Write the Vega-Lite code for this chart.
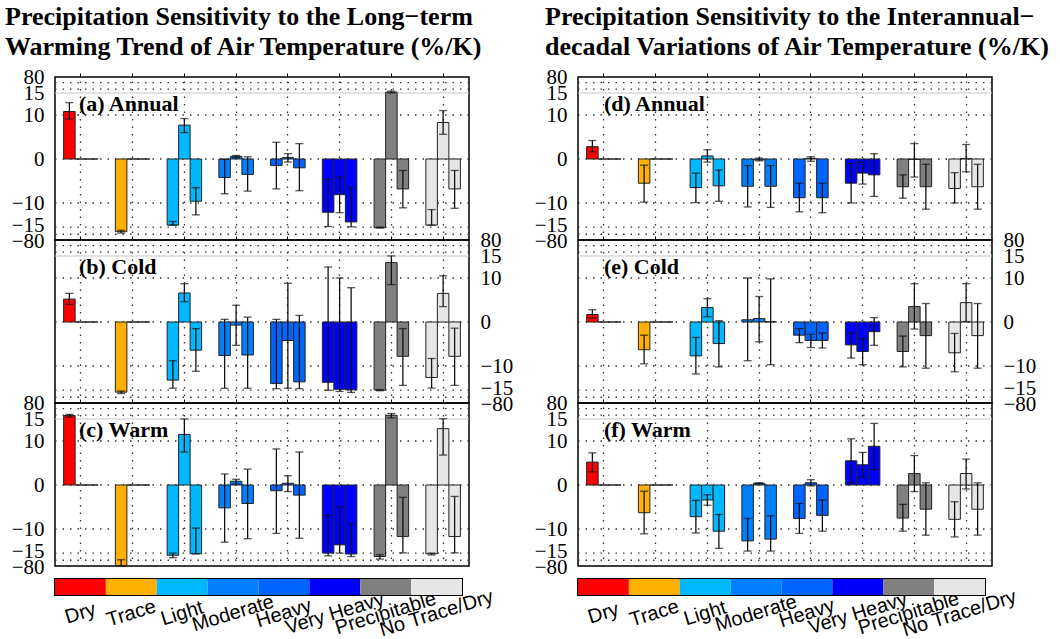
{
"$schema": "https://vega.github.io/schema/vega-lite/v6.json",
"background": "white",
"padding": {"left": 5, "top": 4, "right": 0, "bottom": 0},
"config": {"view": {"stroke": "black", "strokeWidth": 1.5}, "font": "Liberation Serif", "axisY": {"labelOverlap": false}},
"datasets": {
"grid": [{"g": 57, "k": "dot"}, {"g": 31, "k": "dot"}, {"g": 10, "k": "dot"}, {"g": 0, "k": "dot"}, {"g": -10, "k": "dot"}, {"g": -24, "k": "dot"}, {"g": -55, "k": "dot"}, {"g": 15, "k": "solid"}],
"cats": [{"g": "Dry"}, {"g": "Trace"}, {"g": "Light"}, {"g": "Moderate"}, {"g": "Heavy"}, {"g": "Very Heavy"}, {"g": "Precipitable"}, {"g": "No Trace/Dry"}],
"bars": [
{"p":"a","g":"Dry","s":1,"v":10.8,"lo":9.1,"hi":12.8},{"p":"a","g":"Dry","s":2,"v":0},{"p":"a","g":"Dry","s":3,"v":0},
{"p":"a","g":"Trace","s":1,"v":-44,"lo":-50,"hi":-38},{"p":"a","g":"Trace","s":2,"v":0},{"p":"a","g":"Trace","s":3,"v":0},
{"p":"a","g":"Light","s":1,"v":-15.3,"lo":-15.6,"hi":-14.2},{"p":"a","g":"Light","s":2,"v":7.7,"lo":6,"hi":9.2},{"p":"a","g":"Light","s":3,"v":-9.6,"lo":-12.7,"hi":-6.5},
{"p":"a","g":"Moderate","s":1,"v":-4.2,"lo":-7.9,"hi":-0.1},{"p":"a","g":"Moderate","s":2,"v":0.6,"lo":0.3,"hi":0.8},{"p":"a","g":"Moderate","s":3,"v":-3.5,"lo":-7.3,"hi":0.5},
{"p":"a","g":"Heavy","s":1,"v":-1.5,"lo":-6.8,"hi":3.8},{"p":"a","g":"Heavy","s":2,"v":0.3,"lo":-0.7,"hi":1.2},{"p":"a","g":"Heavy","s":3,"v":-2,"lo":-7.2,"hi":3.5},
{"p":"a","g":"Very Heavy","s":1,"v":-12.1,"lo":-21.6,"hi":-4.6},{"p":"a","g":"Very Heavy","s":2,"v":-8.1,"lo":-12.2,"hi":-4.1},{"p":"a","g":"Very Heavy","s":3,"v":-14.3,"lo":-23,"hi":-6.5},
{"p":"a","g":"Precipitable","s":1,"v":-27,"lo":-28,"hi":-24},{"p":"a","g":"Precipitable","s":2,"v":18.8,"lo":15,"hi":22.6},{"p":"a","g":"Precipitable","s":3,"v":-6.8,"lo":-11.1,"hi":-2.6},
{"p":"a","g":"No Trace/Dry","s":1,"v":-15.3,"lo":-15.8,"hi":-11.5},{"p":"a","g":"No Trace/Dry","s":2,"v":8.3,"lo":5.6,"hi":11},{"p":"a","g":"No Trace/Dry","s":3,"v":-6.8,"lo":-11.2,"hi":-2.6},

{"p":"b","g":"Dry","s":1,"v":5.2,"lo":4,"hi":6.5},{"p":"b","g":"Dry","s":2,"v":0},{"p":"b","g":"Dry","s":3,"v":0},
{"p":"b","g":"Trace","s":1,"v":-33,"lo":-39,"hi":-28},{"p":"b","g":"Trace","s":2,"v":0},{"p":"b","g":"Trace","s":3,"v":0},
{"p":"b","g":"Light","s":1,"v":-13.2,"lo":-16,"hi":-8.8},{"p":"b","g":"Light","s":2,"v":6.6,"lo":4.6,"hi":8.7},{"p":"b","g":"Light","s":3,"v":-6.4,"lo":-11.2,"hi":-1.5},
{"p":"b","g":"Moderate","s":1,"v":-7.6,"lo":-16,"hi":0.6},{"p":"b","g":"Moderate","s":2,"v":-0.7,"lo":-5.3,"hi":3.8},{"p":"b","g":"Moderate","s":3,"v":-7.5,"lo":-16,"hi":1.1},
{"p":"b","g":"Heavy","s":1,"v":-14,"lo":-18,"hi":0.6},{"p":"b","g":"Heavy","s":2,"v":-4.2,"lo":-16,"hi":8.8},{"p":"b","g":"Heavy","s":3,"v":-13.6,"lo":-18,"hi":1.5},
{"p":"b","g":"Very Heavy","s":1,"v":-13.7,"lo":-25,"hi":12.5},{"p":"b","g":"Very Heavy","s":2,"v":-20.5,"lo":-30,"hi":10},{"p":"b","g":"Very Heavy","s":3,"v":-23,"lo":-34,"hi":7.8},
{"p":"b","g":"Precipitable","s":1,"v":-24,"lo":-27,"hi":-22},{"p":"b","g":"Precipitable","s":2,"v":13.5,"lo":8.5,"hi":15.3},{"p":"b","g":"Precipitable","s":3,"v":-7.8,"lo":-14.4,"hi":-1.5},
{"p":"b","g":"No Trace/Dry","s":1,"v":-12.6,"lo":-15.5,"hi":-8.3},{"p":"b","g":"No Trace/Dry","s":2,"v":6.5,"lo":3.5,"hi":10.5},{"p":"b","g":"No Trace/Dry","s":3,"v":-7.8,"lo":-14.4,"hi":-1.4},

{"p":"c","g":"Dry","s":1,"v":28.8,"lo":22.5,"hi":33.7},{"p":"c","g":"Dry","s":2,"v":0},{"p":"c","g":"Dry","s":3,"v":0},
{"p":"c","g":"Trace","s":1,"v":-78,"lo":-80,"hi":-53},{"p":"c","g":"Trace","s":2,"v":0},{"p":"c","g":"Trace","s":3,"v":0},
{"p":"c","g":"Light","s":1,"v":-33.6,"lo":-44,"hi":-24},{"p":"c","g":"Light","s":2,"v":11.5,"lo":7.5,"hi":15},{"p":"c","g":"Light","s":3,"v":-27,"lo":-27.5,"hi":-9.8},
{"p":"c","g":"Moderate","s":1,"v":-5.2,"lo":-13,"hi":2.5},{"p":"c","g":"Moderate","s":2,"v":0.85,"lo":0.2,"hi":1.3},{"p":"c","g":"Moderate","s":3,"v":-4.2,"lo":-12.2,"hi":3.6},
{"p":"c","g":"Heavy","s":1,"v":-1.3,"lo":-11,"hi":8.2},{"p":"c","g":"Heavy","s":2,"v":0.4,"lo":-1.5,"hi":2.1},{"p":"c","g":"Heavy","s":3,"v":-2.3,"lo":-12.1,"hi":7.5},
{"p":"c","g":"Very Heavy","s":1,"v":-24,"lo":-36,"hi":-6.9},{"p":"c","g":"Very Heavy","s":2,"v":-13.6,"lo":-24,"hi":-5},{"p":"c","g":"Very Heavy","s":3,"v":-28,"lo":-39,"hi":-8.8},
{"p":"c","g":"Precipitable","s":1,"v":-39,"lo":-50,"hi":-31},{"p":"c","g":"Precipitable","s":2,"v":30,"lo":19.8,"hi":37.5},{"p":"c","g":"Precipitable","s":3,"v":-11.7,"lo":-23,"hi":-2.8},
{"p":"c","g":"No Trace/Dry","s":1,"v":-27,"lo":-32,"hi":-24},{"p":"c","g":"No Trace/Dry","s":2,"v":12.8,"lo":6.8,"hi":16},{"p":"c","g":"No Trace/Dry","s":3,"v":-11.7,"lo":-23,"hi":-2.6},

{"p":"d","g":"Dry","s":1,"v":2.8,"lo":1.6,"hi":4.2},{"p":"d","g":"Dry","s":2,"v":0},{"p":"d","g":"Dry","s":3,"v":0},
{"p":"d","g":"Trace","s":1,"v":-5.5,"lo":-9.8,"hi":-1.4},{"p":"d","g":"Trace","s":2,"v":0},{"p":"d","g":"Trace","s":3,"v":0},
{"p":"d","g":"Light","s":1,"v":-6.5,"lo":-9.9,"hi":-3.2},{"p":"d","g":"Light","s":2,"v":0.7,"lo":-0.7,"hi":2.1},{"p":"d","g":"Light","s":3,"v":-6.1,"lo":-9.6,"hi":-2.5},
{"p":"d","g":"Moderate","s":1,"v":-6.2,"lo":-10.9,"hi":-1.5},{"p":"d","g":"Moderate","s":2,"v":-0.2,"lo":-0.4,"hi":0.2},{"p":"d","g":"Moderate","s":3,"v":-6.2,"lo":-11,"hi":-1.5},
{"p":"d","g":"Heavy","s":1,"v":-8.8,"lo":-12,"hi":-5.5},{"p":"d","g":"Heavy","s":2,"v":0.15,"lo":-0.5,"hi":0.5},{"p":"d","g":"Heavy","s":3,"v":-8.8,"lo":-12.2,"hi":-5.5},
{"p":"d","g":"Very Heavy","s":1,"v":-5.5,"lo":-10,"hi":-1},{"p":"d","g":"Very Heavy","s":2,"v":-3.2,"lo":-5.7,"hi":-0.7},{"p":"d","g":"Very Heavy","s":3,"v":-3.6,"lo":-8.5,"hi":1.2},
{"p":"d","g":"Precipitable","s":1,"v":-6.3,"lo":-8.9,"hi":-3.6},{"p":"d","g":"Precipitable","s":2,"v":-0.1,"lo":-4.1,"hi":3.5},{"p":"d","g":"Precipitable","s":3,"v":-6.3,"lo":-11.4,"hi":-1.2},
{"p":"d","g":"No Trace/Dry","s":1,"v":-6.7,"lo":-10,"hi":-3.1},{"p":"d","g":"No Trace/Dry","s":2,"v":0.1,"lo":-2.9,"hi":3.3},{"p":"d","g":"No Trace/Dry","s":3,"v":-6.3,"lo":-11.4,"hi":-1.2},

{"p":"e","g":"Dry","s":1,"v":1.7,"lo":0.9,"hi":2.8},{"p":"e","g":"Dry","s":2,"v":0},{"p":"e","g":"Dry","s":3,"v":0},
{"p":"e","g":"Trace","s":1,"v":-6.3,"lo":-9.5,"hi":-3},{"p":"e","g":"Trace","s":2,"v":0},{"p":"e","g":"Trace","s":3,"v":0},
{"p":"e","g":"Light","s":1,"v":-7.7,"lo":-11.8,"hi":-3.5},{"p":"e","g":"Light","s":2,"v":3.3,"lo":1.2,"hi":5.3},{"p":"e","g":"Light","s":3,"v":-4.9,"lo":-10.2,"hi":0.3},
{"p":"e","g":"Moderate","s":1,"v":0.5,"lo":-8.8,"hi":10},{"p":"e","g":"Moderate","s":2,"v":0.8,"lo":-4.5,"hi":5.8},{"p":"e","g":"Moderate","s":3,"v":0.05,"lo":-9.7,"hi":9.8},
{"p":"e","g":"Heavy","s":1,"v":-3,"lo":-4.7,"hi":-1.5},{"p":"e","g":"Heavy","s":2,"v":-4.2,"lo":-5.8,"hi":-2.8},{"p":"e","g":"Heavy","s":3,"v":-4.2,"lo":-5.9,"hi":-2.5},
{"p":"e","g":"Very Heavy","s":1,"v":-5.2,"lo":-8.2,"hi":-2.4},{"p":"e","g":"Very Heavy","s":2,"v":-6.7,"lo":-9.7,"hi":-3.8},{"p":"e","g":"Very Heavy","s":3,"v":-2.2,"lo":-5.3,"hi":1},
{"p":"e","g":"Precipitable","s":1,"v":-6.7,"lo":-10.2,"hi":-3.2},{"p":"e","g":"Precipitable","s":2,"v":3.5,"lo":-1.6,"hi":8.7},{"p":"e","g":"Precipitable","s":3,"v":-3.1,"lo":-10.5,"hi":4.2},
{"p":"e","g":"No Trace/Dry","s":1,"v":-7,"lo":-11.3,"hi":-2.6},{"p":"e","g":"No Trace/Dry","s":2,"v":4.4,"lo":0.1,"hi":8.7},{"p":"e","g":"No Trace/Dry","s":3,"v":-3.1,"lo":-10.5,"hi":4.2},

{"p":"f","g":"Dry","s":1,"v":5.2,"lo":3,"hi":7.3},{"p":"f","g":"Dry","s":2,"v":0},{"p":"f","g":"Dry","s":3,"v":0},
{"p":"f","g":"Trace","s":1,"v":-6.3,"lo":-11.1,"hi":-1.4},{"p":"f","g":"Trace","s":2,"v":0},{"p":"f","g":"Trace","s":3,"v":0},
{"p":"f","g":"Light","s":1,"v":-7.2,"lo":-10.9,"hi":-3.5},{"p":"f","g":"Light","s":2,"v":-3.4,"lo":-4.6,"hi":-2.2},{"p":"f","g":"Light","s":3,"v":-10.5,"lo":-14.4,"hi":-6.7},
{"p":"f","g":"Moderate","s":1,"v":-12.7,"lo":-15.4,"hi":-7.6},{"p":"f","g":"Moderate","s":2,"v":0.4,"lo":0.2,"hi":0.5},{"p":"f","g":"Moderate","s":3,"v":-12.3,"lo":-15.3,"hi":-7},
{"p":"f","g":"Heavy","s":1,"v":-7.6,"lo":-11,"hi":-4.2},{"p":"f","g":"Heavy","s":2,"v":0.5,"lo":-0.2,"hi":1.2},{"p":"f","g":"Heavy","s":3,"v":-6.9,"lo":-10.5,"hi":-3.4},
{"p":"f","g":"Very Heavy","s":1,"v":5.5,"lo":0.5,"hi":10.5},{"p":"f","g":"Very Heavy","s":2,"v":4.6,"lo":1.8,"hi":7.4},{"p":"f","g":"Very Heavy","s":3,"v":8.8,"lo":3.5,"hi":14},
{"p":"f","g":"Precipitable","s":1,"v":-7.5,"lo":-10.5,"hi":-4.4},{"p":"f","g":"Precipitable","s":2,"v":2.6,"lo":-1.5,"hi":6.7},{"p":"f","g":"Precipitable","s":3,"v":-5.5,"lo":-11.4,"hi":0.5},
{"p":"f","g":"No Trace/Dry","s":1,"v":-7.8,"lo":-11.8,"hi":-3.8},{"p":"f","g":"No Trace/Dry","s":2,"v":2.6,"lo":-0.9,"hi":5.9},{"p":"f","g":"No Trace/Dry","s":3,"v":-5.5,"lo":-11.4,"hi":0.5}
]
},
"spacing": 19,
"hconcat": [
{
"title": {"text": ["Precipitation Sensitivity to the Long−term", "Warming Trend of Air Temperature (%/K)"], "anchor": "start", "frame": "group", "font": "Liberation Serif", "fontSize": 26, "fontWeight": "bold", "lineHeight": 30, "dx": -50, "offset": 5, "color": "black"},
"spacing": 0,
"vconcat": [
{"bounds": "flush", "spacing": 0, "vconcat": [
{"width": 414, "height": 163, "layer": [
{"data": {"name": "grid"}, "transform": [{"filter": "datum.k == 'dot'"}], "mark": {"type": "rule", "strokeDash": [1.5, 6], "color": "#333", "strokeWidth": 1.3}, "encoding": {"y": {"field": "g", "type": "quantitative", "scale": {"domain": [-80, -15, 15, 80], "range": [163, 148, 16, 0], "zero": false, "nice": false, "clamp": true}, "axis": {"orient": "left", "values": [80, 10, 0, -10, -15], "labelExpr": "datum.value == 80 ? ['80', '15'] : datum.value == -15 ? ['−15', '−80'] : datum.label", "labelLineHeight": 16, "title": null, "grid": false, "ticks": false, "domain": false, "labelFont": "Liberation Serif", "labelFontSize": 21, "labelColor": "black", "labelPadding": 11, "labelFlush": false, "labelOverlap": false, "labelBound": false}}}},
{"data": {"name": "grid"}, "transform": [{"filter": "datum.k == 'solid'"}], "mark": {"type": "rule", "color": "#c8c8c8", "strokeWidth": 1.2}, "encoding": {"y": {"field": "g", "type": "quantitative"}}},
{"data": {"name": "bars"}, "transform": [{"filter": "datum.p == 'a'"}], "mark": {"type": "bar", "stroke": "#222", "strokeWidth": 1}, "encoding": {"x": {"field": "g", "type": "nominal", "sort": ["Dry","Trace","Light","Moderate","Heavy","Very Heavy","Precipitable","No Trace/Dry"], "scale": {"domain": ["Dry","Trace","Light","Moderate","Heavy","Very Heavy","Precipitable","No Trace/Dry"], "paddingInner": 0.333, "paddingOuter": 0.1667}, "axis": {"orient": "top", "labels": false, "domain": false, "ticks": true, "tickSize": 4, "tickColor": "black", "grid": true, "gridDash": [1.5, 6], "gridColor": "#333", "gridWidth": 1.3, "title": null, "bandPosition": 0.5}}, "xOffset": {"field": "s", "type": "ordinal", "scale": {"paddingInner": 0, "paddingOuter": 0}}, "y": {"field": "v", "type": "quantitative"}, "y2": {"datum": 0}, "color": {"field": "g", "type": "nominal", "scale": {"domain": ["Dry","Trace","Light","Moderate","Heavy","Very Heavy","Precipitable","No Trace/Dry"], "range": ["#ff0000","#ffb000","#00b8ff","#0080ff","#0064ff","#0000ff","#808080","#e6e6e6"]}, "legend": null}}},
{"data": {"name": "bars"}, "transform": [{"filter": "datum.p == 'a' && isValid(datum.lo)"}], "mark": {"type": "rule", "color": "#111", "strokeWidth": 1.3}, "encoding": {"x": {"field": "g", "type": "nominal"}, "xOffset": {"field": "s", "type": "ordinal"}, "y": {"field": "lo", "type": "quantitative"}, "y2": {"field": "hi"}}},
{"data": {"name": "bars"}, "transform": [{"filter": "datum.p == 'a' && isValid(datum.lo)"}], "mark": {"type": "tick", "color": "#111", "size": 8, "thickness": 1.3, "orient": "horizontal"}, "encoding": {"x": {"field": "g", "type": "nominal"}, "xOffset": {"field": "s", "type": "ordinal"}, "y": {"field": "lo", "type": "quantitative"}}},
{"data": {"name": "bars"}, "transform": [{"filter": "datum.p == 'a' && isValid(datum.lo)"}], "mark": {"type": "tick", "color": "#111", "size": 8, "thickness": 1.3, "orient": "horizontal"}, "encoding": {"x": {"field": "g", "type": "nominal"}, "xOffset": {"field": "s", "type": "ordinal"}, "y": {"field": "hi", "type": "quantitative"}}},
{"data": {"values": [{"t": "(a) Annual"}]}, "mark": {"type": "text", "font": "Liberation Serif", "fontWeight": "bold", "fontSize": 22, "align": "left", "baseline": "alphabetic", "dx": -2, "color": "black"}, "encoding": {"text": {"field": "t"}, "x": {"datum": "Dry", "type": "nominal"}, "y": {"datum": 11, "type": "quantitative"}}}
]},
{"width": 414, "height": 163, "layer": [
{"data": {"name": "grid"}, "transform": [{"filter": "datum.k == 'dot'"}], "mark": {"type": "rule", "strokeDash": [1.5, 6], "color": "#333", "strokeWidth": 1.3}, "encoding": {"y": {"field": "g", "type": "quantitative", "scale": {"domain": [-80, -15, 15, 80], "range": [163, 148, 16, 0], "zero": false, "nice": false, "clamp": true}, "axis": {"orient": "right", "values": [80, 10, 0, -10, -15], "labelExpr": "datum.value == 80 ? ['80', '15'] : datum.value == -15 ? ['−15', '−80'] : datum.label", "labelLineHeight": 16, "title": null, "grid": false, "ticks": false, "domain": false, "labelFont": "Liberation Serif", "labelFontSize": 21, "labelColor": "black", "labelPadding": 11, "labelFlush": false, "labelOverlap": false, "labelBound": false}}}},
{"data": {"name": "grid"}, "transform": [{"filter": "datum.k == 'solid'"}], "mark": {"type": "rule", "color": "#c8c8c8", "strokeWidth": 1.2}, "encoding": {"y": {"field": "g", "type": "quantitative"}}},
{"data": {"name": "bars"}, "transform": [{"filter": "datum.p == 'b'"}], "mark": {"type": "bar", "stroke": "#222", "strokeWidth": 1}, "encoding": {"x": {"field": "g", "type": "nominal", "sort": ["Dry","Trace","Light","Moderate","Heavy","Very Heavy","Precipitable","No Trace/Dry"], "scale": {"domain": ["Dry","Trace","Light","Moderate","Heavy","Very Heavy","Precipitable","No Trace/Dry"], "paddingInner": 0.333, "paddingOuter": 0.1667}, "axis": {"orient": "top", "labels": false, "domain": false, "ticks": true, "tickSize": 4, "tickColor": "black", "grid": true, "gridDash": [1.5, 6], "gridColor": "#333", "gridWidth": 1.3, "title": null, "bandPosition": 0.5}}, "xOffset": {"field": "s", "type": "ordinal", "scale": {"paddingInner": 0, "paddingOuter": 0}}, "y": {"field": "v", "type": "quantitative"}, "y2": {"datum": 0}, "color": {"field": "g", "type": "nominal", "scale": {"domain": ["Dry","Trace","Light","Moderate","Heavy","Very Heavy","Precipitable","No Trace/Dry"], "range": ["#ff0000","#ffb000","#00b8ff","#0080ff","#0064ff","#0000ff","#808080","#e6e6e6"]}, "legend": null}}},
{"data": {"name": "bars"}, "transform": [{"filter": "datum.p == 'b' && isValid(datum.lo)"}], "mark": {"type": "rule", "color": "#111", "strokeWidth": 1.3}, "encoding": {"x": {"field": "g", "type": "nominal"}, "xOffset": {"field": "s", "type": "ordinal"}, "y": {"field": "lo", "type": "quantitative"}, "y2": {"field": "hi"}}},
{"data": {"name": "bars"}, "transform": [{"filter": "datum.p == 'b' && isValid(datum.lo)"}], "mark": {"type": "tick", "color": "#111", "size": 8, "thickness": 1.3, "orient": "horizontal"}, "encoding": {"x": {"field": "g", "type": "nominal"}, "xOffset": {"field": "s", "type": "ordinal"}, "y": {"field": "lo", "type": "quantitative"}}},
{"data": {"name": "bars"}, "transform": [{"filter": "datum.p == 'b' && isValid(datum.lo)"}], "mark": {"type": "tick", "color": "#111", "size": 8, "thickness": 1.3, "orient": "horizontal"}, "encoding": {"x": {"field": "g", "type": "nominal"}, "xOffset": {"field": "s", "type": "ordinal"}, "y": {"field": "hi", "type": "quantitative"}}},
{"data": {"values": [{"t": "(b) Cold"}]}, "mark": {"type": "text", "font": "Liberation Serif", "fontWeight": "bold", "fontSize": 22, "align": "left", "baseline": "alphabetic", "dx": -2, "color": "black"}, "encoding": {"text": {"field": "t"}, "x": {"datum": "Dry", "type": "nominal"}, "y": {"datum": 11, "type": "quantitative"}}}
]},
{"width": 414, "height": 163, "layer": [
{"data": {"name": "grid"}, "transform": [{"filter": "datum.k == 'dot'"}], "mark": {"type": "rule", "strokeDash": [1.5, 6], "color": "#333", "strokeWidth": 1.3}, "encoding": {"y": {"field": "g", "type": "quantitative", "scale": {"domain": [-80, -15, 15, 80], "range": [163, 148, 16, 0], "zero": false, "nice": false, "clamp": true}, "axis": {"orient": "left", "values": [80, 10, 0, -10, -15], "labelExpr": "datum.value == 80 ? ['80', '15'] : datum.value == -15 ? ['−15', '−80'] : datum.label", "labelLineHeight": 16, "title": null, "grid": false, "ticks": false, "domain": false, "labelFont": "Liberation Serif", "labelFontSize": 21, "labelColor": "black", "labelPadding": 11, "labelFlush": false, "labelOverlap": false, "labelBound": false}}}},
{"data": {"name": "grid"}, "transform": [{"filter": "datum.k == 'solid'"}], "mark": {"type": "rule", "color": "#c8c8c8", "strokeWidth": 1.2}, "encoding": {"y": {"field": "g", "type": "quantitative"}}},
{"data": {"name": "bars"}, "transform": [{"filter": "datum.p == 'c'"}], "mark": {"type": "bar", "stroke": "#222", "strokeWidth": 1}, "encoding": {"x": {"field": "g", "type": "nominal", "sort": ["Dry","Trace","Light","Moderate","Heavy","Very Heavy","Precipitable","No Trace/Dry"], "scale": {"domain": ["Dry","Trace","Light","Moderate","Heavy","Very Heavy","Precipitable","No Trace/Dry"], "paddingInner": 0.333, "paddingOuter": 0.1667}, "axis": {"orient": "top", "labels": false, "domain": false, "ticks": true, "tickSize": 4, "tickColor": "black", "grid": true, "gridDash": [1.5, 6], "gridColor": "#333", "gridWidth": 1.3, "title": null, "bandPosition": 0.5}}, "xOffset": {"field": "s", "type": "ordinal", "scale": {"paddingInner": 0, "paddingOuter": 0}}, "y": {"field": "v", "type": "quantitative"}, "y2": {"datum": 0}, "color": {"field": "g", "type": "nominal", "scale": {"domain": ["Dry","Trace","Light","Moderate","Heavy","Very Heavy","Precipitable","No Trace/Dry"], "range": ["#ff0000","#ffb000","#00b8ff","#0080ff","#0064ff","#0000ff","#808080","#e6e6e6"]}, "legend": null}}},
{"data": {"name": "bars"}, "transform": [{"filter": "datum.p == 'c' && isValid(datum.lo)"}], "mark": {"type": "rule", "color": "#111", "strokeWidth": 1.3}, "encoding": {"x": {"field": "g", "type": "nominal"}, "xOffset": {"field": "s", "type": "ordinal"}, "y": {"field": "lo", "type": "quantitative"}, "y2": {"field": "hi"}}},
{"data": {"name": "bars"}, "transform": [{"filter": "datum.p == 'c' && isValid(datum.lo)"}], "mark": {"type": "tick", "color": "#111", "size": 8, "thickness": 1.3, "orient": "horizontal"}, "encoding": {"x": {"field": "g", "type": "nominal"}, "xOffset": {"field": "s", "type": "ordinal"}, "y": {"field": "lo", "type": "quantitative"}}},
{"data": {"name": "bars"}, "transform": [{"filter": "datum.p == 'c' && isValid(datum.lo)"}], "mark": {"type": "tick", "color": "#111", "size": 8, "thickness": 1.3, "orient": "horizontal"}, "encoding": {"x": {"field": "g", "type": "nominal"}, "xOffset": {"field": "s", "type": "ordinal"}, "y": {"field": "hi", "type": "quantitative"}}},
{"data": {"values": [{"t": "(c) Warm"}]}, "mark": {"type": "text", "font": "Liberation Serif", "fontWeight": "bold", "fontSize": 22, "align": "left", "baseline": "alphabetic", "dx": -2, "color": "black"}, "encoding": {"text": {"field": "t"}, "x": {"datum": "Dry", "type": "nominal"}, "y": {"datum": 11, "type": "quantitative"}}}
]}
]},
{"width": 407, "height": 16, "view": {"stroke": "black", "strokeWidth": 2}, "data": {"name": "cats"}, "mark": {"type": "bar"}, "encoding": {"x": {"field": "g", "type": "nominal", "sort": ["Dry","Trace","Light","Moderate","Heavy","Very Heavy","Precipitable","No Trace/Dry"], "scale": {"paddingInner": 0, "paddingOuter": 0}, "axis": {"orient": "bottom", "domain": false, "ticks": false, "labelAngle": -17, "labelFont": "Liberation Sans", "labelFontSize": 20, "labelColor": "black", "labelPadding": 18, "labelAlign": "center", "labelBaseline": "middle", "title": null, "labelOverlap": false, "labelBound": false}}, "color": {"field": "g", "type": "nominal", "scale": {"domain": ["Dry","Trace","Light","Moderate","Heavy","Very Heavy","Precipitable","No Trace/Dry"], "range": ["#ff0000","#ffb000","#00b8ff","#0080ff","#0064ff","#0000ff","#808080","#e6e6e6"]}, "legend": null}}}
]
},
{
"title": {"text": ["Precipitation Sensitivity to the Interannual−", "decadal Variations of Air Temperature (%/K)"], "anchor": "start", "frame": "group", "font": "Liberation Serif", "fontSize": 26, "fontWeight": "bold", "lineHeight": 30, "dx": -33, "offset": 5, "color": "black"},
"spacing": 0,
"vconcat": [
{"bounds": "flush", "spacing": 0, "vconcat": [
{"width": 414, "height": 163, "layer": [
{"data": {"name": "grid"}, "transform": [{"filter": "datum.k == 'dot'"}], "mark": {"type": "rule", "strokeDash": [1.5, 6], "color": "#333", "strokeWidth": 1.3}, "encoding": {"y": {"field": "g", "type": "quantitative", "scale": {"domain": [-80, -15, 15, 80], "range": [163, 148, 16, 0], "zero": false, "nice": false, "clamp": true}, "axis": {"orient": "left", "values": [80, 10, 0, -10, -15], "labelExpr": "datum.value == 80 ? ['80', '15'] : datum.value == -15 ? ['−15', '−80'] : datum.label", "labelLineHeight": 16, "title": null, "grid": false, "ticks": false, "domain": false, "labelFont": "Liberation Serif", "labelFontSize": 21, "labelColor": "black", "labelPadding": 11, "labelFlush": false, "labelOverlap": false, "labelBound": false}}}},
{"data": {"name": "grid"}, "transform": [{"filter": "datum.k == 'solid'"}], "mark": {"type": "rule", "color": "#c8c8c8", "strokeWidth": 1.2}, "encoding": {"y": {"field": "g", "type": "quantitative"}}},
{"data": {"name": "bars"}, "transform": [{"filter": "datum.p == 'd'"}], "mark": {"type": "bar", "stroke": "#222", "strokeWidth": 1}, "encoding": {"x": {"field": "g", "type": "nominal", "sort": ["Dry","Trace","Light","Moderate","Heavy","Very Heavy","Precipitable","No Trace/Dry"], "scale": {"domain": ["Dry","Trace","Light","Moderate","Heavy","Very Heavy","Precipitable","No Trace/Dry"], "paddingInner": 0.333, "paddingOuter": 0.1667}, "axis": {"orient": "top", "labels": false, "domain": false, "ticks": true, "tickSize": 4, "tickColor": "black", "grid": true, "gridDash": [1.5, 6], "gridColor": "#333", "gridWidth": 1.3, "title": null, "bandPosition": 0.5}}, "xOffset": {"field": "s", "type": "ordinal", "scale": {"paddingInner": 0, "paddingOuter": 0}}, "y": {"field": "v", "type": "quantitative"}, "y2": {"datum": 0}, "color": {"field": "g", "type": "nominal", "scale": {"domain": ["Dry","Trace","Light","Moderate","Heavy","Very Heavy","Precipitable","No Trace/Dry"], "range": ["#ff0000","#ffb000","#00b8ff","#0080ff","#0064ff","#0000ff","#808080","#e6e6e6"]}, "legend": null}}},
{"data": {"name": "bars"}, "transform": [{"filter": "datum.p == 'd' && isValid(datum.lo)"}], "mark": {"type": "rule", "color": "#111", "strokeWidth": 1.3}, "encoding": {"x": {"field": "g", "type": "nominal"}, "xOffset": {"field": "s", "type": "ordinal"}, "y": {"field": "lo", "type": "quantitative"}, "y2": {"field": "hi"}}},
{"data": {"name": "bars"}, "transform": [{"filter": "datum.p == 'd' && isValid(datum.lo)"}], "mark": {"type": "tick", "color": "#111", "size": 8, "thickness": 1.3, "orient": "horizontal"}, "encoding": {"x": {"field": "g", "type": "nominal"}, "xOffset": {"field": "s", "type": "ordinal"}, "y": {"field": "lo", "type": "quantitative"}}},
{"data": {"name": "bars"}, "transform": [{"filter": "datum.p == 'd' && isValid(datum.lo)"}], "mark": {"type": "tick", "color": "#111", "size": 8, "thickness": 1.3, "orient": "horizontal"}, "encoding": {"x": {"field": "g", "type": "nominal"}, "xOffset": {"field": "s", "type": "ordinal"}, "y": {"field": "hi", "type": "quantitative"}}},
{"data": {"values": [{"t": "(d) Annual"}]}, "mark": {"type": "text", "font": "Liberation Serif", "fontWeight": "bold", "fontSize": 22, "align": "left", "baseline": "alphabetic", "dx": 0, "color": "black"}, "encoding": {"text": {"field": "t"}, "x": {"datum": "Dry", "type": "nominal"}, "y": {"datum": 11, "type": "quantitative"}}}
]},
{"width": 414, "height": 163, "layer": [
{"data": {"name": "grid"}, "transform": [{"filter": "datum.k == 'dot'"}], "mark": {"type": "rule", "strokeDash": [1.5, 6], "color": "#333", "strokeWidth": 1.3}, "encoding": {"y": {"field": "g", "type": "quantitative", "scale": {"domain": [-80, -15, 15, 80], "range": [163, 148, 16, 0], "zero": false, "nice": false, "clamp": true}, "axis": {"orient": "right", "values": [80, 10, 0, -10, -15], "labelExpr": "datum.value == 80 ? ['80', '15'] : datum.value == -15 ? ['−15', '−80'] : datum.label", "labelLineHeight": 16, "title": null, "grid": false, "ticks": false, "domain": false, "labelFont": "Liberation Serif", "labelFontSize": 21, "labelColor": "black", "labelPadding": 11, "labelFlush": false, "labelOverlap": false, "labelBound": false}}}},
{"data": {"name": "grid"}, "transform": [{"filter": "datum.k == 'solid'"}], "mark": {"type": "rule", "color": "#c8c8c8", "strokeWidth": 1.2}, "encoding": {"y": {"field": "g", "type": "quantitative"}}},
{"data": {"name": "bars"}, "transform": [{"filter": "datum.p == 'e'"}], "mark": {"type": "bar", "stroke": "#222", "strokeWidth": 1}, "encoding": {"x": {"field": "g", "type": "nominal", "sort": ["Dry","Trace","Light","Moderate","Heavy","Very Heavy","Precipitable","No Trace/Dry"], "scale": {"domain": ["Dry","Trace","Light","Moderate","Heavy","Very Heavy","Precipitable","No Trace/Dry"], "paddingInner": 0.333, "paddingOuter": 0.1667}, "axis": {"orient": "top", "labels": false, "domain": false, "ticks": true, "tickSize": 4, "tickColor": "black", "grid": true, "gridDash": [1.5, 6], "gridColor": "#333", "gridWidth": 1.3, "title": null, "bandPosition": 0.5}}, "xOffset": {"field": "s", "type": "ordinal", "scale": {"paddingInner": 0, "paddingOuter": 0}}, "y": {"field": "v", "type": "quantitative"}, "y2": {"datum": 0}, "color": {"field": "g", "type": "nominal", "scale": {"domain": ["Dry","Trace","Light","Moderate","Heavy","Very Heavy","Precipitable","No Trace/Dry"], "range": ["#ff0000","#ffb000","#00b8ff","#0080ff","#0064ff","#0000ff","#808080","#e6e6e6"]}, "legend": null}}},
{"data": {"name": "bars"}, "transform": [{"filter": "datum.p == 'e' && isValid(datum.lo)"}], "mark": {"type": "rule", "color": "#111", "strokeWidth": 1.3}, "encoding": {"x": {"field": "g", "type": "nominal"}, "xOffset": {"field": "s", "type": "ordinal"}, "y": {"field": "lo", "type": "quantitative"}, "y2": {"field": "hi"}}},
{"data": {"name": "bars"}, "transform": [{"filter": "datum.p == 'e' && isValid(datum.lo)"}], "mark": {"type": "tick", "color": "#111", "size": 8, "thickness": 1.3, "orient": "horizontal"}, "encoding": {"x": {"field": "g", "type": "nominal"}, "xOffset": {"field": "s", "type": "ordinal"}, "y": {"field": "lo", "type": "quantitative"}}},
{"data": {"name": "bars"}, "transform": [{"filter": "datum.p == 'e' && isValid(datum.lo)"}], "mark": {"type": "tick", "color": "#111", "size": 8, "thickness": 1.3, "orient": "horizontal"}, "encoding": {"x": {"field": "g", "type": "nominal"}, "xOffset": {"field": "s", "type": "ordinal"}, "y": {"field": "hi", "type": "quantitative"}}},
{"data": {"values": [{"t": "(e) Cold"}]}, "mark": {"type": "text", "font": "Liberation Serif", "fontWeight": "bold", "fontSize": 22, "align": "left", "baseline": "alphabetic", "dx": 0, "color": "black"}, "encoding": {"text": {"field": "t"}, "x": {"datum": "Dry", "type": "nominal"}, "y": {"datum": 11, "type": "quantitative"}}}
]},
{"width": 414, "height": 163, "layer": [
{"data": {"name": "grid"}, "transform": [{"filter": "datum.k == 'dot'"}], "mark": {"type": "rule", "strokeDash": [1.5, 6], "color": "#333", "strokeWidth": 1.3}, "encoding": {"y": {"field": "g", "type": "quantitative", "scale": {"domain": [-80, -15, 15, 80], "range": [163, 148, 16, 0], "zero": false, "nice": false, "clamp": true}, "axis": {"orient": "left", "values": [80, 10, 0, -10, -15], "labelExpr": "datum.value == 80 ? ['80', '15'] : datum.value == -15 ? ['−15', '−80'] : datum.label", "labelLineHeight": 16, "title": null, "grid": false, "ticks": false, "domain": false, "labelFont": "Liberation Serif", "labelFontSize": 21, "labelColor": "black", "labelPadding": 11, "labelFlush": false, "labelOverlap": false, "labelBound": false}}}},
{"data": {"name": "grid"}, "transform": [{"filter": "datum.k == 'solid'"}], "mark": {"type": "rule", "color": "#c8c8c8", "strokeWidth": 1.2}, "encoding": {"y": {"field": "g", "type": "quantitative"}}},
{"data": {"name": "bars"}, "transform": [{"filter": "datum.p == 'f'"}], "mark": {"type": "bar", "stroke": "#222", "strokeWidth": 1}, "encoding": {"x": {"field": "g", "type": "nominal", "sort": ["Dry","Trace","Light","Moderate","Heavy","Very Heavy","Precipitable","No Trace/Dry"], "scale": {"domain": ["Dry","Trace","Light","Moderate","Heavy","Very Heavy","Precipitable","No Trace/Dry"], "paddingInner": 0.333, "paddingOuter": 0.1667}, "axis": {"orient": "top", "labels": false, "domain": false, "ticks": true, "tickSize": 4, "tickColor": "black", "grid": true, "gridDash": [1.5, 6], "gridColor": "#333", "gridWidth": 1.3, "title": null, "bandPosition": 0.5}}, "xOffset": {"field": "s", "type": "ordinal", "scale": {"paddingInner": 0, "paddingOuter": 0}}, "y": {"field": "v", "type": "quantitative"}, "y2": {"datum": 0}, "color": {"field": "g", "type": "nominal", "scale": {"domain": ["Dry","Trace","Light","Moderate","Heavy","Very Heavy","Precipitable","No Trace/Dry"], "range": ["#ff0000","#ffb000","#00b8ff","#0080ff","#0064ff","#0000ff","#808080","#e6e6e6"]}, "legend": null}}},
{"data": {"name": "bars"}, "transform": [{"filter": "datum.p == 'f' && isValid(datum.lo)"}], "mark": {"type": "rule", "color": "#111", "strokeWidth": 1.3}, "encoding": {"x": {"field": "g", "type": "nominal"}, "xOffset": {"field": "s", "type": "ordinal"}, "y": {"field": "lo", "type": "quantitative"}, "y2": {"field": "hi"}}},
{"data": {"name": "bars"}, "transform": [{"filter": "datum.p == 'f' && isValid(datum.lo)"}], "mark": {"type": "tick", "color": "#111", "size": 8, "thickness": 1.3, "orient": "horizontal"}, "encoding": {"x": {"field": "g", "type": "nominal"}, "xOffset": {"field": "s", "type": "ordinal"}, "y": {"field": "lo", "type": "quantitative"}}},
{"data": {"name": "bars"}, "transform": [{"filter": "datum.p == 'f' && isValid(datum.lo)"}], "mark": {"type": "tick", "color": "#111", "size": 8, "thickness": 1.3, "orient": "horizontal"}, "encoding": {"x": {"field": "g", "type": "nominal"}, "xOffset": {"field": "s", "type": "ordinal"}, "y": {"field": "hi", "type": "quantitative"}}},
{"data": {"values": [{"t": "(f) Warm"}]}, "mark": {"type": "text", "font": "Liberation Serif", "fontWeight": "bold", "fontSize": 22, "align": "left", "baseline": "alphabetic", "dx": 0, "color": "black"}, "encoding": {"text": {"field": "t"}, "x": {"datum": "Dry", "type": "nominal"}, "y": {"datum": 11, "type": "quantitative"}}}
]}
]},
{"width": 407, "height": 16, "view": {"stroke": "black", "strokeWidth": 2}, "data": {"name": "cats"}, "mark": {"type": "bar"}, "encoding": {"x": {"field": "g", "type": "nominal", "sort": ["Dry","Trace","Light","Moderate","Heavy","Very Heavy","Precipitable","No Trace/Dry"], "scale": {"paddingInner": 0, "paddingOuter": 0}, "axis": {"orient": "bottom", "domain": false, "ticks": false, "labelAngle": -17, "labelFont": "Liberation Sans", "labelFontSize": 20, "labelColor": "black", "labelPadding": 18, "labelAlign": "center", "labelBaseline": "middle", "title": null, "labelOverlap": false, "labelBound": false}}, "color": {"field": "g", "type": "nominal", "scale": {"domain": ["Dry","Trace","Light","Moderate","Heavy","Very Heavy","Precipitable","No Trace/Dry"], "range": ["#ff0000","#ffb000","#00b8ff","#0080ff","#0064ff","#0000ff","#808080","#e6e6e6"]}, "legend": null}}}
]
}
]
}
